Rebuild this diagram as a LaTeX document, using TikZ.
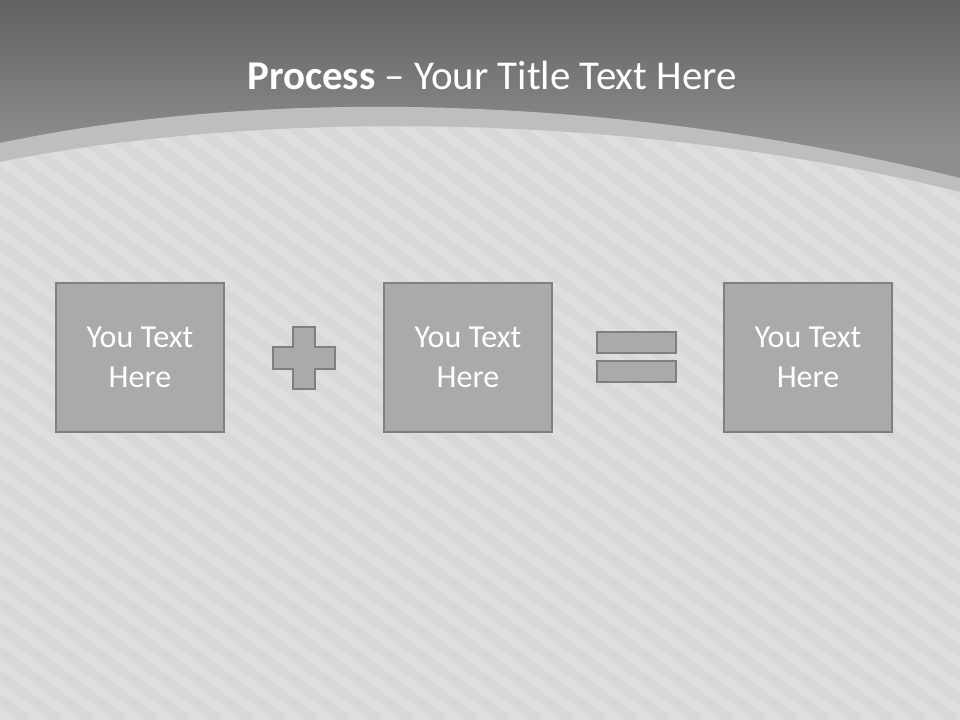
\documentclass[tikz,border=0pt]{standalone}
\usepackage{fontspec}
\setmainfont{Carlito}
\definecolor{topdark}{HTML}{626262}
\definecolor{topmid}{HTML}{8E8E8E}
\definecolor{bandgray}{HTML}{BEBEBE}
\definecolor{paper}{HTML}{DEDEDE}
\definecolor{stripe}{HTML}{D8D8D8}
\definecolor{boxfill}{HTML}{AAAAAA}
\definecolor{boxline}{HTML}{7F7F7F}
\tikzset{every picture/.style={line width=0.75pt}}
\tikzset{
  textbox/.style={draw=boxline, fill=boxfill, line width=1.5pt, minimum width=126pt, minimum height=111.75pt, align=center, text=white, font=\fontsize{24}{30}\selectfont, inner sep=0pt},
  signshape/.style={draw=boxline, fill=boxfill, line width=1.5pt}
}

\begin{document}
\begin{tikzpicture}[x=0.75pt,y=0.75pt,yscale=-1,xscale=1]
	\useasboundingbox (0,0) rectangle (960,720);
	
	%Shape: Background [id:bg]
	\fill [topmid] (0,0) rectangle (960,720);
	\shade [top color=topdark, bottom color=topmid] (0,0) rectangle (960,150);
	%Shape: Light band
	\fill [bandgray] (0,143) .. controls (250,90) and (600,90) .. (960,178) -- (960,720) -- (0,720) -- cycle ;
	%Shape: Striped paper
	\fill [paper] (0,162) .. controls (250,112) and (620,108) .. (960,192) -- (960,720) -- (0,720) -- cycle ;
	\begin{scope}
		\clip (0,162) .. controls (250,112) and (620,108) .. (960,192) -- (960,720) -- (0,720) -- cycle ;
		\foreach \x in {-832,-800,...,960}
			\draw [stripe, line width=7.5pt] (\x,100) -- (\x+827,720) ;
	\end{scope}
	
	% Text Node
	\node (title) at (492,75) [text=white, font=\fontsize{30.7}{36}\selectfont] {\textbf{Process} – Your Title Text Here};
	
	%Shape: Rectangle [id:boxA]
	\node (boxA) at (140,357.5) [textbox] {You Text\\Here};
	%Shape: Rectangle [id:boxB]
	\node (boxB) at (468,357.5) [textbox] {You Text\\Here};
	%Shape: Rectangle [id:boxC]
	\node (boxC) at (808,357.5) [textbox] {You Text\\Here};
	
	%Shape: Plus
	\draw [signshape] (293,327) -- (315,327) -- (315,347) -- (335,347) -- (335,369) -- (315,369) -- (315,389) -- (293,389) -- (293,369) -- (273,369) -- (273,347) -- (293,347) -- cycle ;
	%Shape: Equals
	\draw [signshape] (597,332) rectangle (676,353) ;
	\draw [signshape] (597,361) rectangle (676,382) ;
	
\end{tikzpicture}
\end{document}
